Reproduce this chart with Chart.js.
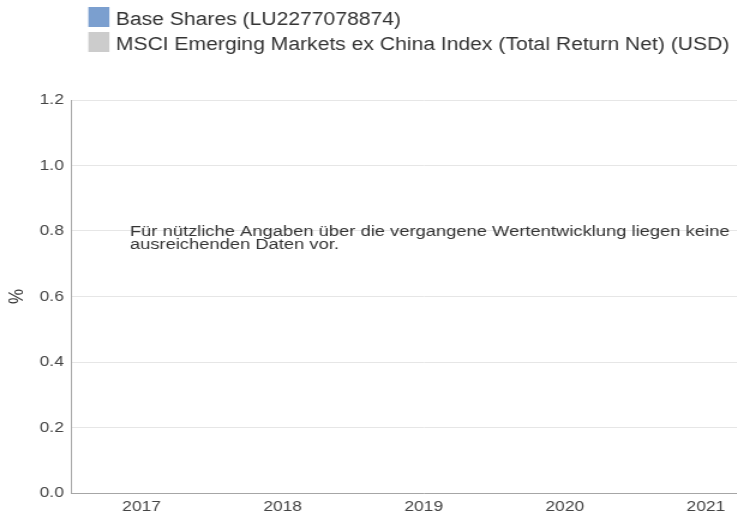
<!DOCTYPE html>
<html>
<head>
<meta charset="utf-8">
<script src="https://cdn.jsdelivr.net/npm/chart.js@4.4.1/dist/chart.umd.min.js"></script>
<style>
  html, body { margin: 0; padding: 0; background: #fff; overflow: hidden; }
  #wrap { width: 650px; height: 520px; transform: scaleX(1.2); transform-origin: 0 0; }
</style>
</head>
<body>
<div id="wrap"><canvas id="mycanvas" width="650" height="520"></canvas></div>
<script>
// categories and series (no performance data available yet)
var years = ['2017', '2018', '2019', '2020', '2021'];
var fundReturns = [null, null, null, null, null];
var indexReturns = [null, null, null, null, null];
var seriesNames = ['Base Shares (LU2277078874)', 'MSCI Emerging Markets ex China Index (Total Return Net) (USD)'];
var seriesColors = ['#7b9fcf', '#cccccc'];
var yTicks = [0, 0.2, 0.4, 0.6, 0.8, 1.0, 1.2];
var noDataNote = ['Für nützliche Angaben über die vergangene Wertentwicklung liegen keine', 'ausreichenden Daten vor.'];

var FONT = '"Liberation Sans", Arial, sans-serif';

// legend drawn by hand: one row per series
var legendRows = {
	id: 'legendRows',
	afterDraw: function(chart){
		var ctx = chart.ctx;
		ctx.save();
		ctx.font = '17.6px ' + FONT;
		ctx.textBaseline = 'alphabetic';
		chart.data.datasets.forEach(function(ds, i){
			var y = 7 + i * 25;
			ctx.fillStyle = ds.backgroundColor;
			ctx.fillRect(73.6, y, 17.5, 20);
			ctx.fillStyle = '#333';
			ctx.fillText(ds.label, 96.5, y + 18);
		});
		ctx.restore();
	}
};

// message when there is nothing to show
var noteText = {
	id: 'noteText',
	afterDraw: function(chart){
		var ctx = chart.ctx, a = chart.chartArea;
		ctx.save();
		ctx.font = '15.3px ' + FONT;
		ctx.fillStyle = '#333';
		ctx.textBaseline = 'alphabetic';
		for(var i=0;i<noDataNote.length;i++)
		{
			ctx.fillText(noDataNote[i], a.left + 49, 235.5 + i * 13);
		}
		ctx.restore();
	}
};

var chartdata = {
	labels: years,
	datasets: [
	{
		label: seriesNames[0],
		backgroundColor: seriesColors[0],
		data: fundReturns
	},
	{
		label: seriesNames[1],
		backgroundColor: seriesColors[1],
		data: indexReturns
	}
	]
};

var ctx = document.getElementById('mycanvas');
var barGraph = new Chart(ctx, {
	type: 'bar',
	data: chartdata,
	plugins: [legendRows, noteText],
	options: {
		responsive: false,
		animation: false,
		devicePixelRatio: 1,
		layout: { padding: { top: 100, right: 3, left: 0, bottom: 0 } },
		plugins: {
			legend: { display: false },
			tooltip: { enabled: false }
		},
		scales: {
			x: {
				grid: { display: false, drawTicks: false },
				border: { display: true, color: '#a6a6a6', width: 1 },
				ticks: { color: '#444', font: { family: FONT, size: 14.5 }, padding: 5.5 },
				afterFit: function(s){ s.height = 27; }
			},
			y: {
				min: yTicks[0],
				max: yTicks[yTicks.length - 1],
				afterBuildTicks: function(s){
					s.ticks = yTicks.map(function(v){ return { value: v }; });
				},
				grid: { color: '#e6e6e6', drawTicks: false },
				border: { display: true, color: '#a6a6a6', width: 1 },
				ticks: {
					color: '#444',
					font: { family: FONT, size: 14.5 },
					padding: 6,
					callback: function(v){ return Number(v).toFixed(1); }
				},
				title: {
					display: true,
					text: '%',
					color: '#333',
					font: { family: FONT, size: 17 },
					padding: { top: 4, bottom: 0 }
				},
				afterFit: function(s){ s.width = 59.2; }
			}
		}
	}
});
</script>
</body>
</html>
